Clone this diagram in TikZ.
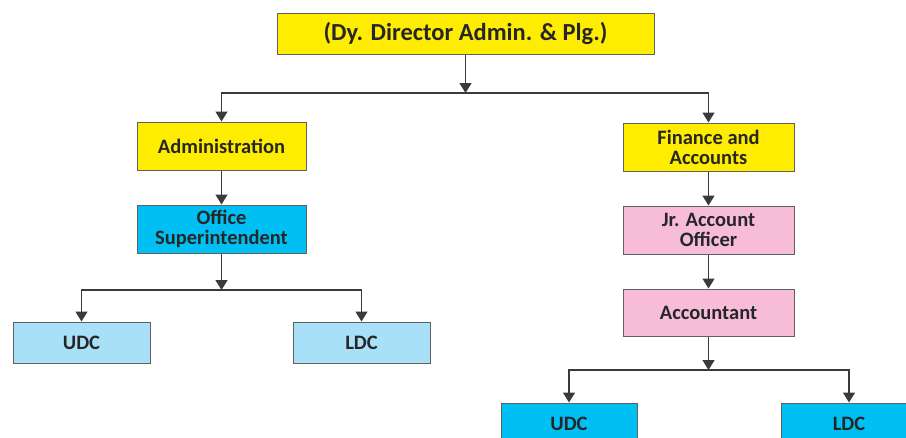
\documentclass[tikz,border=0pt]{standalone}
\usepackage{fontspec}
\setmainfont{Carlito}
\usetikzlibrary{arrows.meta}
\definecolor{boxyellow}{HTML}{FFED00}
\definecolor{boxcyan}{HTML}{00BFF3}
\definecolor{boxlight}{HTML}{A8E0F8}
\definecolor{boxpink}{HTML}{F7BDD8}
\definecolor{linegray}{HTML}{3A3A3A}

\begin{document}
\begin{tikzpicture}[x=1pt,y=-1pt,
		box/.style={draw=linegray!80, line width=1pt, inner sep=0pt, align=center,
			font=\fontsize{20.5}{20}\selectfont\bfseries, text=black!85},
		conn/.style={draw=linegray, line width=1.4pt, -{Triangle[width=12pt,length=10pt]}}]
		\useasboundingbox (0,0) rectangle (906,437);
		\clip (0,0) rectangle (906,437);
		\node[box, fill=boxyellow, minimum width=377pt, minimum height=41pt,
			font=\fontsize{24.5}{26}\selectfont\bfseries] (dydir) at (465.5,33.5) {(Dy. Director Admin. \& Plg.)};
		\node[box, fill=boxyellow, minimum width=169pt, minimum height=48pt] (admin) at (221.5,146) {Administration};
		\node[box, fill=boxcyan, minimum width=169pt, minimum height=48pt] (offsup) at (221.5,229) {Office\\Superintendent};
		\node[box, fill=boxlight, minimum width=137pt, minimum height=41pt] (udca) at (81.5,342.5) {UDC};
		\node[box, fill=boxlight, minimum width=137pt, minimum height=41pt] (ldca) at (361.5,342.5) {LDC};
		\node[box, fill=boxyellow, minimum width=171pt, minimum height=48pt] (finacc) at (708.5,147) {Finance and\\Accounts};
		\node[box, fill=boxpink, minimum width=171pt, minimum height=48pt] (jrao) at (708.5,230) {Jr. Account\\Officer};
		\node[box, fill=boxpink, minimum width=171pt, minimum height=47pt] (acct) at (708.5,312.5) {Accountant};
		\node[box, fill=boxcyan, minimum width=136pt, minimum height=41pt] (udcb) at (569,423.5) {UDC};
		\node[box, fill=boxcyan, minimum width=136pt, minimum height=41pt] (ldcb) at (849,423.5) {LDC};
		\coordinate (jtop) at (465.5,93);
		\coordinate (jleft) at (221.5,290);
		\coordinate (jright) at (708.5,370);
		\draw[conn] (dydir) -- (jtop);
		\draw[conn] (jtop) -| (admin);
		\draw[conn] (jtop) -| (finacc);
		\draw[conn] (admin) -- (offsup);
		\draw[conn] (offsup) -- (jleft);
		\draw[conn] (jleft) -| (udca);
		\draw[conn] (jleft) -| (ldca);
		\draw[conn] (finacc) -- (jrao);
		\draw[conn] (jrao) -- (acct);
		\draw[conn] (acct) -- (jright);
		\draw[conn] (jright) -| (udcb);
		\draw[conn] (jright) -| (ldcb);
	\end{tikzpicture}
\end{document}
